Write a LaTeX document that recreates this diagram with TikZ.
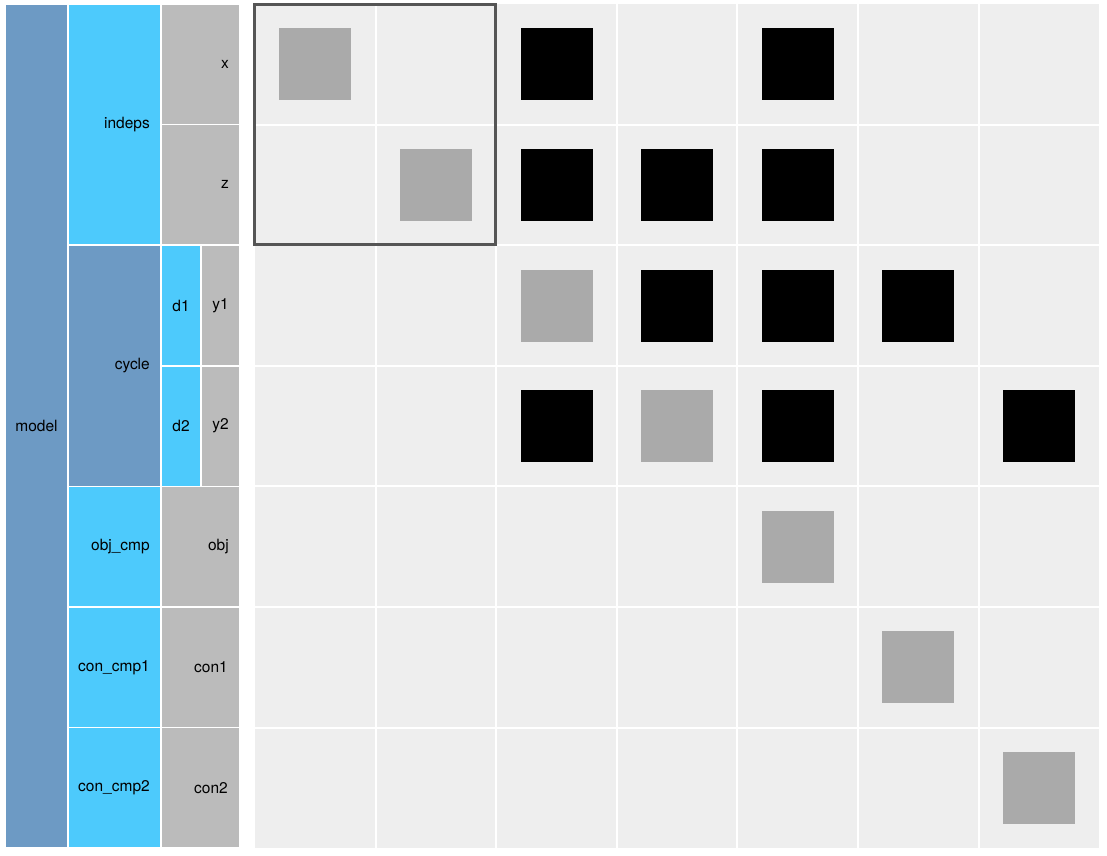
\documentclass[tikz,border=0pt]{standalone}
\usepackage{fontspec}
\setmainfont{TeX Gyre Heros}
\usepackage{tikz}
\usetikzlibrary{positioning,calc}
\definecolor{modelblue}{RGB}{109, 154, 196}
\definecolor{compblue}{RGB}{77, 202, 252}
\definecolor{vargray}{RGB}{187, 187, 187}
\definecolor{cellbg}{RGB}{238, 238, 238}
\definecolor{depgray}{RGB}{170, 170, 170}
\definecolor{framegray}{RGB}{85, 85, 85}

\tikzset{
    blk/.style={draw=white, line width=1.5pt},
    lbl/.style={inner sep=0pt, font=\fontsize{15.5}{18}\selectfont},
    dep/.style={minimum size=72pt, inner sep=0pt, draw=none}
}

\begin{document}
\begin{tikzpicture}[x=1pt, y=-1pt]
        \useasboundingbox (0,0) rectangle (1107,855);

        % Tree panel
        \fill[gray!18] (4,3) rectangle (241,849);
        \fill[modelblue, blk] (5,4) rectangle (68,848);
        \fill[compblue, blk] (68,4) rectangle (161,245.2);
        \fill[modelblue, blk] (68,245.2) rectangle (161,486.4);
        \fill[compblue, blk] (68,486.4) rectangle (161,607);
        \fill[compblue, blk] (68,607) rectangle (161,727.6);
        \fill[compblue, blk] (68,727.6) rectangle (161,848);
        \fill[vargray, blk] (161,4) rectangle (240,124.6);
        \fill[vargray, blk] (161,124.6) rectangle (240,245.2);
        \fill[compblue, blk] (161,245.2) rectangle (201,365.8);
        \fill[vargray, blk] (201,245.2) rectangle (240,365.8);
        \fill[compblue, blk] (161,365.8) rectangle (201,486.4);
        \fill[vargray, blk] (201,365.8) rectangle (240,486.4);
        \fill[vargray, blk] (161,486.4) rectangle (240,607);
        \fill[vargray, blk] (161,607) rectangle (240,727.6);
        \fill[vargray, blk] (161,727.6) rectangle (240,848);

        % Tree labels
        \node[lbl] (model) at (36.5,426.1) {model};
        \node[lbl, anchor=east] (indeps) at (150,124.6) {indeps};
        \node[lbl, anchor=east] (cycle) at (150,365.8) {cycle};
        \node[lbl, anchor=east] (objcmp) at (150,546.7) {obj\_cmp};
        \node[lbl, anchor=east] (concmpa) at (150,667.3) {con\_cmp1};
        \node[lbl, anchor=east] (concmpb) at (150,787.9) {con\_cmp2};
        \node[lbl, anchor=east] (x) at (229,64.3) {x};
        \node[lbl, anchor=east] (z) at (229,184.9) {z};
        \node[lbl] (d1) at (181,305.5) {d1};
        \node[lbl] (y1) at (220.5,305.5) {y1};
        \node[lbl] (d2) at (181,426.1) {d2};
        \node[lbl] (y2) at (220.5,426.1) {y2};
        \node[lbl, anchor=east] (obj) at (229,546.7) {obj};
        \node[lbl, anchor=east] (cona) at (228,667.3) {con1};
        \node[lbl, anchor=east] (conb) at (228,787.9) {con2};

        % Matrix cells
        \fill[cellbg] (255,4) rectangle (1099,848);
        \foreach \k in {1,...,6} {
            \draw[white, line width=2pt] ({255+120.6*\k},4) -- ({255+120.6*\k},848);
            \draw[white, line width=2pt] (255,{4+120.6*\k}) -- (1099,{4+120.6*\k});
        }

        % Diagonal entries
        \foreach \r/\c in {0/0, 1/1, 2/2, 3/3, 4/4, 5/5, 6/6}
            \node[dep, fill=depgray] (m-\r-\c) at ({255+120.6*(\c+0.5)},{4+120.6*(\r+0.5)}) {};

        % Off-diagonal entries
        \foreach \r/\c in {0/2, 0/4, 1/2, 1/3, 1/4, 2/3, 2/4, 2/5, 3/2, 3/4, 3/6}
            \node[dep, fill=black] (m-\r-\c) at ({255+120.6*(\c+0.5)},{4+120.6*(\r+0.5)}) {};

        % Group frame
        \draw[framegray, line width=2.5pt] (254.5,4.5) rectangle (495.5,244.5);
    \end{tikzpicture}
\end{document}
